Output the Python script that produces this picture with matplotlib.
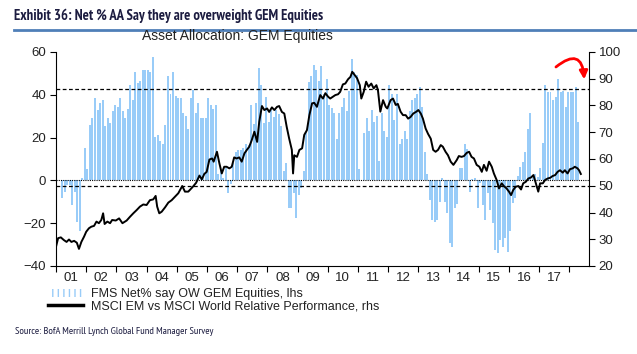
import numpy as np
import pandas as pd
import matplotlib
matplotlib.use('Agg')
import matplotlib.pyplot as plt
from matplotlib.patches import Patch
from matplotlib.lines import Line2D

plt.rcParams['font.family'] = ['Liberation Sans', 'DejaVu Sans']

# FMS net % overweight GEM equities, monthly from Mar 2001 (lhs)
fms_net_ow = [
    -8.3, -5.5, -2, -2, -11.4, -5.5, -19.5, -23.7, 1, 15,
    5.3, 26, 29, 38.5, 33, 36, 37.4, 25.4, 29, 27,
    32.4, 35, 34.3, 38.5, 32.4, 29, 33.3, 44.6, 37.4, 50.6,
    45.5, 46.4, 51.5, 51.5, 51.5, 50.6, 57.7, 20.3, 21, 18.3,
    17, 26, 49, 40.3, 50.6, 39.4, 38.5, 38.5, 31.5, 30,
    24, 38.6, 42.2, 31.6, 36.3, 29.1, 29.1, 29.1, 38.6, 35.2,
    33.3, 35.2, 3, 4.8, 1.2, 5.6, -6, -1.9, 8, 13.4,
    14.2, 14.2, 15.3, 17, 16.5, 35.2, 26.3, 36, 52.3, 44.5,
    27, 39.2, 27.3, 32.7, 29.6, 32.7, 31, 25.2, 4.5, 8,
    -13, -13, -6, -17.5, -7, -3.5, 4.5, 22.7, 46, 49,
    54, 51.5, 46.4, 53.4, 40.2, 47.2, 35.2, 33.6, 31.6, 19.3,
    31.6, 34.1, 38.3, 32.4, 42, 56.5, 50.8, 49.2, 5.3, 0,
    22.3, 29, 23, 32.9, 27.4, 30, 9, 31.6, 23, 20.4,
    44.5, 40.2, 28.2, 40.6, 16.8, 19.2, 23, 19.2, 32.4, 37.5,
    38.6, 40.3, 43.8, 34.4, 13.4, 3, -9.2, -18.5, -19.3, -18.5,
    -10, 1.2, -10, -15.4, -29.1, -31.3, -13, -11.2, 5.6, 5.6,
    17, 14.5, -5.3, 0.5, 1.2, -13, -1, -11.5, -18.5, -6,
    -13.9, -20, -32.6, -34.1, -27.9, -31.3, -27.1, -33.5, -23.5, -10.7,
    -8.1, 2, 6.4, 8.7, 13.4, 24, 31.6, 1.7, 3, 1.5,
    5.6, 17.5, 44.5, 41.4, 41.4, 37.5, 39, 47.2, 41.4, 41.9,
    34.4, 41.4, 41.4, 41.4, 43.8, 27.4,
]
fms_months = pd.date_range('2001-03-01', periods=len(fms_net_ow), freq='MS')
fms_x = fms_months.year + (fms_months.month - 0.5) / 12

# MSCI EM vs MSCI World relative performance (rhs)
rel_year = [
    2001.00, 2001.07, 2001.16, 2001.26, 2001.35, 2001.43, 2001.51, 2001.60, 2001.69, 2001.76,
    2001.84, 2001.93, 2002.00, 2002.09, 2002.17, 2002.26, 2002.34, 2002.42, 2002.50, 2002.56,
    2002.61, 2002.70, 2002.79, 2002.86, 2002.98, 2003.09, 2003.20, 2003.34, 2003.45, 2003.56,
    2003.67, 2003.78, 2003.89, 2004.00, 2004.11, 2004.22, 2004.30, 2004.35, 2004.42, 2004.50,
    2004.61, 2004.72, 2004.83, 2004.94, 2005.05, 2005.18, 2005.27, 2005.38, 2005.53, 2005.64,
    2005.75, 2005.83, 2005.91, 2005.99, 2006.08, 2006.17, 2006.22, 2006.33, 2006.41, 2006.49,
    2006.57, 2006.65, 2006.74, 2006.82, 2006.90, 2006.98, 2007.07, 2007.15, 2007.24, 2007.32,
    2007.40, 2007.48, 2007.57, 2007.66, 2007.73, 2007.82, 2007.90, 2007.99, 2008.06, 2008.15,
    2008.23, 2008.32, 2008.39, 2008.48, 2008.56, 2008.64, 2008.72, 2008.81, 2008.85, 2008.89,
    2008.98, 2009.06, 2009.15, 2009.22, 2009.31, 2009.39, 2009.48, 2009.55, 2009.64, 2009.75,
    2009.84, 2009.92, 2010.01, 2010.08, 2010.17, 2010.25, 2010.34, 2010.41, 2010.50, 2010.58,
    2010.67, 2010.75, 2010.81, 2010.89, 2010.97, 2011.06, 2011.11, 2011.19, 2011.27, 2011.35,
    2011.44, 2011.52, 2011.61, 2011.66, 2011.74, 2011.83, 2011.92, 2011.97, 2012.08, 2012.16,
    2012.25, 2012.32, 2012.41, 2012.49, 2012.58, 2012.66, 2012.74, 2012.83, 2012.92, 2013.00,
    2013.08, 2013.15, 2013.24, 2013.32, 2013.41, 2013.49, 2013.57, 2013.65, 2013.74, 2013.81,
    2013.90, 2013.98, 2014.07, 2014.16, 2014.27, 2014.34, 2014.43, 2014.51, 2014.60, 2014.68,
    2014.76, 2014.84, 2014.93, 2015.02, 2015.10, 2015.17, 2015.26, 2015.34, 2015.43, 2015.50,
    2015.59, 2015.67, 2015.76, 2015.83, 2015.92, 2016.00, 2016.07, 2016.14, 2016.22, 2016.31,
    2016.40, 2016.47, 2016.56, 2016.64, 2016.73, 2016.81, 2016.89, 2016.97, 2017.03, 2017.12,
    2017.20, 2017.28, 2017.37, 2017.44, 2017.53, 2017.61, 2017.69, 2017.78, 2017.85, 2017.94,
    2018.02, 2018.11, 2018.18, 2018.27, 2018.32, 2018.38,
]
rel_perf = [
    27.2, 30.4, 30.7, 29.7, 29.0, 29.9, 29.0, 29.4, 28.7, 26.4,
    29.0, 31.0, 32.8, 34.1, 34.7, 35.0, 36.6, 36.0, 37.2, 39.7,
    35.7, 36.6, 36.0, 37.2, 37.0, 37.8, 36.0, 37.0, 38.4, 39.7,
    40.9, 42.2, 43.0, 42.8, 44.6, 44.9, 46.2, 42.2, 39.7, 40.3,
    41.9, 43.7, 44.6, 45.9, 47.2, 49.9, 47.8, 47.8, 49.6, 51.1,
    53.8, 52.4, 54.4, 55.2, 59.8, 60.2, 59.0, 62.7, 58.4, 54.6,
    57.1, 57.1, 56.5, 57.1, 60.6, 60.2, 60.6, 59.0, 62.1, 63.4,
    64.6, 67.0, 70.2, 66.4, 73.9, 79.8, 78.3, 78.9, 77.6, 79.3,
    78.3, 79.5, 79.8, 77.6, 77.0, 72.0, 67.7, 63.4, 54.6, 61.4,
    60.8, 63.4, 64.0, 69.0, 70.8, 76.4, 80.8, 81.0, 79.5, 83.9,
    82.6, 84.6, 83.3, 82.6, 83.3, 83.9, 84.2, 85.1, 87.9, 88.2,
    89.8, 90.7, 92.6, 91.4, 90.2, 87.6, 82.6, 85.1, 88.9, 87.0,
    88.2, 86.4, 87.6, 85.8, 77.7, 82.0, 79.5, 78.9, 82.0, 82.6,
    80.2, 80.6, 77.7, 76.4, 76.4, 75.1, 75.7, 77.0, 77.6, 78.3,
    77.0, 75.1, 71.4, 69.4, 67.6, 63.4, 62.7, 63.4, 65.2, 64.6,
    62.7, 61.4, 59.0, 57.8, 59.6, 61.1, 60.8, 61.1, 62.3, 62.7,
    60.8, 60.2, 57.8, 57.1, 55.2, 57.8, 55.6, 59.0, 57.1, 54.6,
    52.2, 49.0, 50.9, 49.9, 49.0, 47.8, 46.5, 48.4, 49.6, 49.9,
    48.6, 50.9, 51.5, 52.7, 53.1, 54.0, 50.9, 47.8, 50.9, 50.9,
    52.2, 52.7, 53.0, 53.6, 54.0, 55.2, 55.8, 54.9, 55.8, 54.6,
    56.2, 56.5, 57.1, 56.5, 55.8, 54.4,
]

years = list(range(2001, 2019))
year_labels = ['01', '02', '03', '04', '05', '06', '07', '08', '09',
               '10', '11', '12', '13', '14', '15', '16', '17']
upper_band = 42.5
lower_band = -2.7

bar_blue = '#99ccf8'
text_col = '#222222'
navy = '#1c1c40'
narrow = ['PT Sans Narrow', 'DejaVu Sans']

fig = plt.figure(figsize=(6.37, 3.54), dpi=100)
ax = fig.add_axes([56/637, 1-266/354, 533/637, 214/354])

ax.bar(fms_x, fms_net_ow, width=0.066, color=bar_blue, linewidth=0, zorder=1)
ax.axhline(0, color='black', lw=0.8, ls=(0, (1, 1)), zorder=3)
ax.axhline(upper_band, color='black', lw=0.9, ls=(0, (3, 2)), zorder=3)
ax.axhline(lower_band, color='black', lw=0.9, ls=(0, (3, 2)), zorder=3)
ax.set_ylim(-40, 60)
ax.set_yticks(range(-40, 61, 20))
ax.set_xlim(2001, 2018.65)
ax.set_xticks(years)
ax.set_xticklabels([])
ax.set_xticks([y + 0.5 for y in years[:-1]], minor=True)
ax.set_xticklabels(year_labels, minor=True)
ax.tick_params(axis='x', which='major', length=4, width=0.8, direction='out')
ax.tick_params(axis='x', which='minor', length=0, pad=4, labelsize=9.5, labelcolor=text_col)
ax.tick_params(axis='y', length=4, width=0.8, labelsize=9.5, labelcolor=text_col, pad=3)
for s in ['top', 'right']:
    ax.spines[s].set_visible(False)

ax2 = ax.twinx()
ax2.plot(rel_year, rel_perf, color='black', lw=1.4, zorder=4)
ax2.set_ylim(20, 100)
ax2.set_yticks(range(20, 101, 10))
ax2.tick_params(axis='y', length=4, width=0.8, labelsize=9.5, labelcolor=text_col, pad=3)
for s in ['top', 'left', 'bottom']:
    ax2.spines[s].set_visible(False)

# red "rolling over" arrow
ax2.annotate('', xy=(0.991, 0.872), xytext=(0.938, 0.930), xycoords='axes fraction',
             arrowprops=dict(arrowstyle='-|>', color='red', lw=2, mutation_scale=12,
                             shrinkA=0, shrinkB=0,
                             connectionstyle='arc3,rad=-0.95'))

fig.text(14/637, 1-16/354, 'Exhibit 36: Net % AA Say they are overweight GEM Equities',
         fontsize=10.5, fontweight='bold', color=navy, va='center', family=narrow)
fig.add_artist(Line2D([14/637, 1], [1-29.5/354]*2, color='#4f7fb8', lw=2))
fig.text(237/637, 1-36/354, 'Asset Allocation: GEM Equities', fontsize=10,
         color=text_col, ha='center', va='center')

handles = [Patch(facecolor='white', edgecolor=bar_blue, hatch='|||', linewidth=0),
           Line2D([], [], color='black', lw=2.5)]
labels = ['FMS Net% say OW GEM Equities, lhs',
          'MSCI EM vs MSCI World Relative Performance, rhs']
fig.legend(handles, labels, loc='upper left', bbox_to_anchor=(42/637, 1-282/354),
           frameon=False, fontsize=9, labelspacing=0.0, handlelength=2.8,
           handletextpad=0.6, borderpad=0, labelcolor=text_col)

fig.text(15/637, 1-332/354, 'Source: BofA Merrill Lynch Global Fund Manager Survey',
         fontsize=7.5, color=navy, va='center', family=narrow)

fig.savefig('out.png', dpi=100)
